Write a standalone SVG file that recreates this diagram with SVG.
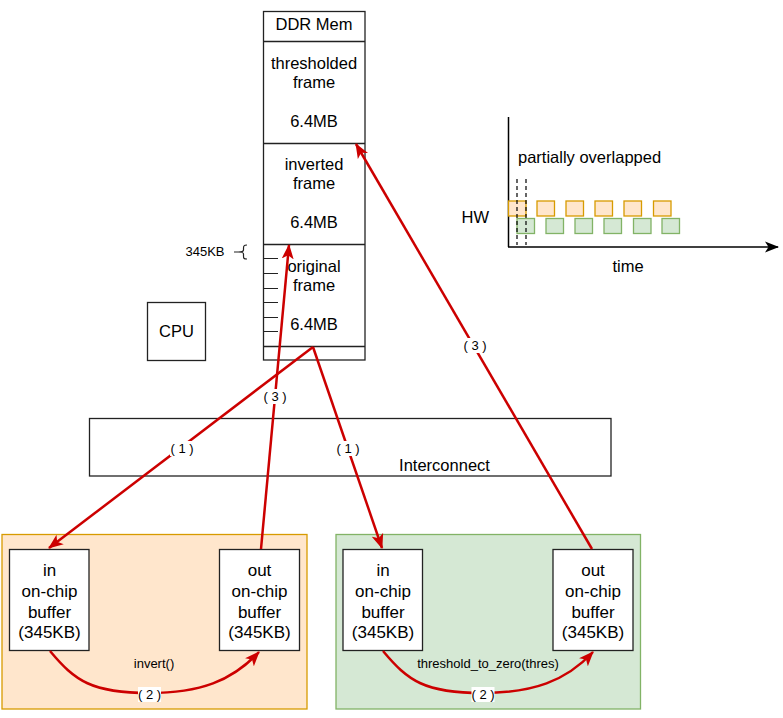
<svg xmlns="http://www.w3.org/2000/svg" width="783" height="718" viewBox="0 0 783 718">
<defs>
<marker id="ar" markerUnits="userSpaceOnUse" markerWidth="15" markerHeight="13" viewBox="0 0 15 13" refX="14" refY="6.5" orient="auto">
<path d="M0,0.5 L15,6.5 L0,12.5 L3.8,6.5 z" fill="#CC0000"/>
</marker>
<marker id="ak" markerUnits="userSpaceOnUse" markerWidth="14" markerHeight="12" viewBox="0 0 14 12" refX="13" refY="6" orient="auto">
<path d="M0,0.5 L14,6 L0,11.5 L3.5,6 z" fill="#000"/>
</marker>
<style>
text{font-family:"Liberation Sans",Arial,sans-serif;fill:#000}
.b{font-size:16.5px;text-anchor:middle}
.bf{font-size:17px;text-anchor:middle}
.s{font-size:13px;text-anchor:middle}
.box{fill:#fff;stroke:#222;stroke-width:1.3}
.edge{fill:none;stroke:#CC0000;stroke-width:2.5}
.lbg{fill:#fff}
.o{fill:#ffe6cc;stroke:#d79b00;stroke-width:1.3}
.g{fill:#d5e8d4;stroke:#82b366;stroke-width:1.3}
</style>
</defs>
<g id="orange-group"><rect class="o" x="2" y="534.5" width="305" height="174.5"/></g>
<g id="green-group"><rect class="g" x="336" y="534.5" width="304.5" height="174.5"/></g>

<g id="ddr-mem">
<rect class="box" x="263.5" y="11.5" width="101.5" height="348.5"/>
<line x1="263.5" y1="41.5" x2="365" y2="41.5" stroke="#222" stroke-width="1.3"/>
<line x1="263.5" y1="143.5" x2="365" y2="143.5" stroke="#222" stroke-width="1.3"/>
<line x1="263.5" y1="244.5" x2="365" y2="244.5" stroke="#222" stroke-width="1.3"/>
<line x1="263.5" y1="346.5" x2="365" y2="346.5" stroke="#222" stroke-width="1.3"/>
<text class="b" x="314" y="30">DDR Mem</text>
<text class="b" x="314" y="69">thresholded</text>
<text class="b" x="314" y="88">frame</text>
<text class="b" x="314" y="127">6.4MB</text>
<text class="b" x="314" y="170">inverted</text>
<text class="b" x="314" y="189">frame</text>
<text class="b" x="314" y="228">6.4MB</text>
<text class="b" x="314" y="272">original</text>
<text class="b" x="314" y="291">frame</text>
<text class="b" x="314" y="330">6.4MB</text>
<g stroke="#222" stroke-width="1">
<line x1="263.5" y1="258.5" x2="278" y2="258.5"/>
<line x1="263.5" y1="273.5" x2="278" y2="273.5"/>
<line x1="263.5" y1="288.5" x2="278" y2="288.5"/>
<line x1="263.5" y1="302.5" x2="278" y2="302.5"/>
<line x1="263.5" y1="317.5" x2="278" y2="317.5"/>
<line x1="263.5" y1="331.5" x2="278" y2="331.5"/>
</g>
</g>

<g id="chunk-label">
<text x="185.5" y="256" style="font-size:13px">345KB</text>
<path d="M247,245 C243.5,245 243.5,246.5 243.5,248.5 L243.5,250 C243.5,251.5 242,252 238.5,252 C242,252 243.5,252.5 243.5,254 L243.5,256 C243.5,258 243.5,259 247,259 M234,252 L238.5,252" fill="none" stroke="#222" stroke-width="1.2"/>
</g>

<g id="cpu"><rect class="box" x="147.5" y="302.5" width="58" height="58"/><text class="b" x="176.5" y="337">CPU</text></g>

<g id="interconnect"><rect class="box" x="89.5" y="418.5" width="521.5" height="57.5"/><text class="b" x="444.5" y="471">Interconnect</text></g>

<g id="in-buf-1"><rect class="box" x="9.5" y="549.5" width="79.5" height="101"/>
<text class="bf" x="49.5" y="576">in</text><text class="bf" x="49.5" y="597">on-chip</text><text class="bf" x="49.5" y="618">buffer</text><text class="bf" x="49.5" y="638">(345KB)</text></g>
<g id="out-buf-1"><rect class="box" x="219.5" y="549.5" width="80" height="101"/>
<text class="bf" x="259.5" y="576">out</text><text class="bf" x="259.5" y="597">on-chip</text><text class="bf" x="259.5" y="618">buffer</text><text class="bf" x="259.5" y="638">(345KB)</text></g>
<g id="in-buf-2"><rect class="box" x="343" y="549.5" width="79.5" height="101"/>
<text class="bf" x="383" y="576">in</text><text class="bf" x="383" y="597">on-chip</text><text class="bf" x="383" y="618">buffer</text><text class="bf" x="383" y="638">(345KB)</text></g>
<g id="out-buf-2"><rect class="box" x="553" y="549.5" width="80" height="101"/>
<text class="bf" x="593" y="576">out</text><text class="bf" x="593" y="597">on-chip</text><text class="bf" x="593" y="618">buffer</text><text class="bf" x="593" y="638">(345KB)</text></g>

<g id="timeline">
<line x1="508.5" y1="117" x2="508.5" y2="247" stroke="#000" stroke-width="1.5"/>
<line x1="508" y1="247" x2="778" y2="247" stroke="#000" stroke-width="1.5" marker-end="url(#ak)"/>
<text x="518" y="163" style="font-size:16.5px">partially overlapped</text>
<text x="461.5" y="223" style="font-size:16.5px">HW</text>
<text x="612.5" y="272" style="font-size:16.5px">time</text>
<g class="o">
<rect x="508.5" y="201" width="17.5" height="15"/>
<rect x="537" y="201" width="17.5" height="15"/>
<rect x="566" y="201" width="17.5" height="15"/>
<rect x="595" y="201" width="17.5" height="15"/>
<rect x="624" y="201" width="17.5" height="15"/>
<rect x="653.5" y="201" width="17.5" height="15"/>
</g>
<g class="g">
<rect x="517" y="218.5" width="17.5" height="15"/>
<rect x="546" y="218.5" width="17.5" height="15"/>
<rect x="575" y="218.5" width="17.5" height="15"/>
<rect x="604" y="218.5" width="17.5" height="15"/>
<rect x="633.5" y="218.5" width="17.5" height="15"/>
<rect x="662" y="218.5" width="17.5" height="15"/>
</g>
<line x1="517" y1="179" x2="517" y2="245" stroke="#000" stroke-width="1.2" stroke-dasharray="4,3"/>
<line x1="526" y1="179" x2="526" y2="245" stroke="#000" stroke-width="1.2" stroke-dasharray="4,3"/>
</g>

<g id="connectors">
<path class="edge" d="M313,347 L49,548" marker-end="url(#ar)"/>
<path class="edge" d="M313,347 L382,548" marker-end="url(#ar)"/>
<path class="edge" d="M261,549 L289,245" marker-end="url(#ar)"/>
<path class="edge" d="M592,549 L356,144" marker-end="url(#ar)"/>
<path class="edge" d="M50,651 C75,681 92,693 149,693 C200,693 232,681 259,652" marker-end="url(#ar)"/>
<path class="edge" d="M383,651 C408,681 425,693 482,693 C533,693 566,681 593,652" marker-end="url(#ar)"/>
<rect class="lbg" x="170" y="441" width="24" height="15"/>
<text class="s" x="182" y="453">( 1 )</text>
<rect class="lbg" x="336" y="441" width="24" height="15"/>
<text class="s" x="348" y="453">( 1 )</text>
<rect class="lbg" x="263" y="389" width="24" height="15"/>
<text class="s" x="275" y="401">( 3 )</text>
<rect class="lbg" x="463" y="338" width="24" height="15"/>
<text class="s" x="475" y="350">( 3 )</text>
<rect class="lbg" x="138" y="687" width="23" height="15"/>
<text class="s" x="149.5" y="699">( 2 )</text>
<rect class="lbg" x="471.5" y="687" width="23" height="15"/>
<text class="s" x="483" y="699">( 2 )</text>
<text class="s" x="154" y="668">invert()</text>
<text class="s" x="488" y="668">threshold_to_zero(thres)</text>
</g>
</svg>
